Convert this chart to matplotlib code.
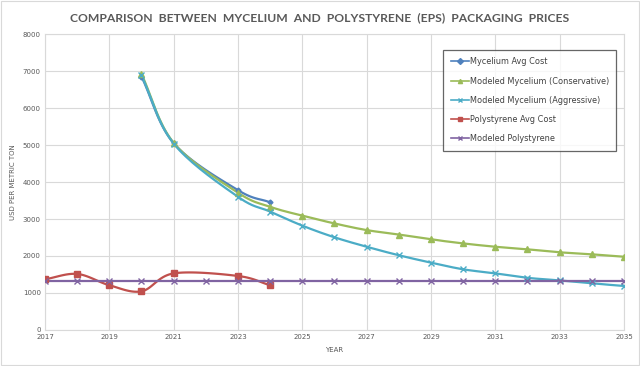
import numpy as np
import matplotlib.pyplot as plt
from matplotlib.patches import Rectangle

# Values (USD per metric ton)
myc_years = [2020, 2021, 2023, 2024]
myc_avg = [6850, 5050, 3780, 3450]

model_years = [2020, 2021, 2023, 2024, 2025, 2026, 2027, 2028, 2029, 2030,
               2031, 2032, 2033, 2034, 2035]
myc_conservative = [6920, 5060, 3710, 3330, 3090, 2880, 2700, 2580, 2450, 2340,
                    2250, 2180, 2100, 2045, 1980]
myc_aggressive = [6880, 5040, 3600, 3200, 2820, 2505, 2250, 2020, 1820, 1640,
                  1530, 1410, 1340, 1260, 1190]

ps_years = [2017, 2018, 2019, 2020, 2021, 2023, 2024]
ps_avg = [1370, 1515, 1210, 1045, 1530, 1460, 1210]

ps_model_years = list(range(2017, 2036))
ps_model = [1330] * len(ps_model_years)


def smooth(xs, ys, n=20):
    # Catmull-Rom through the points, like the smoothed-line option in a spreadsheet
    p = np.column_stack([xs, ys]).astype(float)
    if len(p) < 3:
        return p[:, 0], p[:, 1]
    p = np.vstack([2 * p[0] - p[1], p, 2 * p[-1] - p[-2]])
    out = []
    t = np.linspace(0, 1, n)[:, None]
    for i in range(1, len(p) - 2):
        p0, p1, p2, p3 = p[i - 1], p[i], p[i + 1], p[i + 2]
        seg = 0.5 * ((2 * p1) + (-p0 + p2) * t + (2 * p0 - 5 * p1 + 4 * p2 - p3) * t ** 2
                     + (-p0 + 3 * p1 - 3 * p2 + p3) * t ** 3)
        out.append(seg if i == 1 else seg[1:])
    out = np.vstack(out)
    return out[:, 0], out[:, 1]


fig = plt.figure(figsize=(6.4, 3.66), dpi=100)
ax = fig.add_axes([0.0703, 0.0984, 0.9047, 0.8086])
fig.patches.append(Rectangle((0.002, 0.003), 0.996, 0.994, transform=fig.transFigure,
                             fill=False, edgecolor='#d9d9d9', linewidth=0.8))

series = [
    (myc_years, myc_avg, '#4F81BD', 'D', 2.5, 'Mycelium Avg Cost'),
    (model_years, myc_conservative, '#9BBB59', '^', 4, 'Modeled Mycelium (Conservative)'),
    (model_years, myc_aggressive, '#4BACC6', 'x', 4, 'Modeled Mycelium (Aggressive)'),
    (ps_years, ps_avg, '#C0504D', 's', 4.5, 'Polystyrene Avg Cost'),
    (ps_model_years, ps_model, '#8064A2', 'x', 4, 'Modeled Polystyrene'),
]
for xs, ys, color, marker, ms, label in series:
    sx, sy = smooth(xs, ys)
    ax.plot(sx, sy, color=color, linewidth=1.6, zorder=3)
    ax.plot(xs, ys, linestyle='none', marker=marker, markersize=ms, color=color,
            markeredgewidth=1, zorder=4)
    ax.plot([], [], color=color, linewidth=1.2, marker=marker, markersize=3, label=label)

ax.set_xlim(2017, 2035)
ax.set_ylim(0, 8000)
ax.set_xticks(range(2017, 2036, 2))
ax.set_yticks(range(0, 8001, 1000))
ax.grid(True, color='#d9d9d9', linewidth=0.8)
ax.set_axisbelow(True)
for s in ax.spines.values():
    s.set_color('#d9d9d9')
ax.tick_params(length=0, labelsize=5, labelcolor='#595959', pad=3)
ax.set_xlabel('YEAR', fontsize=5, color='#595959', labelpad=5)
ax.set_ylabel('USD PER METRIC TON', fontsize=5, color='#595959', labelpad=5)

fig.text(0.5, 0.953, 'COMPARISON  BETWEEN  MYCELIUM  AND  POLYSTYRENE  (EPS)  PACKAGING  PRICES',
         ha='center', va='center', fontsize=8.7, color='#595959', fontweight='bold',
         family=['Lato', 'DejaVu Sans'])

leg = ax.legend(loc='upper left', bbox_to_anchor=(0.681, 0.96), fontsize=5.9,
                frameon=True, fancybox=False, handlelength=2.2, handletextpad=0.1,
                labelspacing=1.25, borderpad=0.9, labelcolor='#404040')
leg.get_frame().set_edgecolor('#404040')
leg.get_frame().set_linewidth(0.9)

fig.savefig('out.png', dpi=100)
